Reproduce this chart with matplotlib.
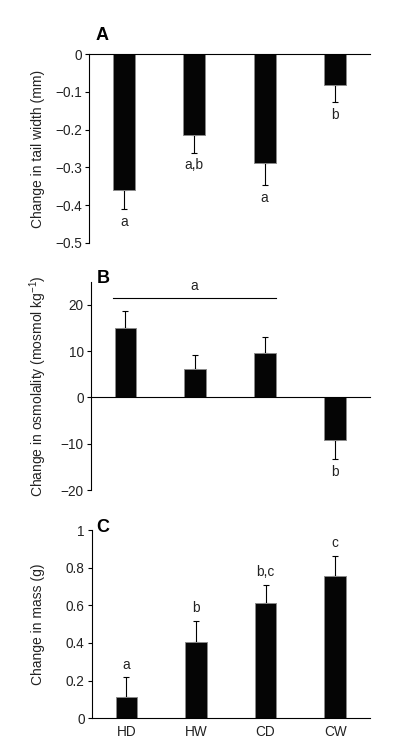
import numpy as np
import matplotlib
matplotlib.use('Agg')
import matplotlib.pyplot as plt

plt.rcParams['font.family'] = ['Liberation Sans', 'DejaVu Sans']

groups = ['HD', 'HW', 'CD', 'CW']

# panel A: change in tail width (mm)
width_mean = [-0.360, -0.215, -0.288, -0.081]
width_err = [0.051, 0.046, 0.059, 0.047]
width_letters = ['a', 'a,b', 'a', 'b']

# panel B: change in osmolality
osmo_mean = [15.0, 6.2, 9.7, -9.1]
osmo_err = [3.7, 2.9, 3.3, 4.3]
osmo_letters = ['', '', '', 'b']
osmo_bracket = (-0.18, 2.16, 21.5, 'a')   # x from, x to, y, letter

# panel C: change in mass (g)
mass_mean = [0.115, 0.404, 0.611, 0.754]
mass_err = [0.103, 0.114, 0.099, 0.110]
mass_letters = ['a', 'b', 'b,c', 'c']

W, H = 399, 746
fig = plt.figure(figsize=(W / 100, H / 100), dpi=100)

def axes_px(left, top, right, bottom):
    return fig.add_axes([left / W, 1 - bottom / H, (right - left) / W, (bottom - top) / H])

axA = axes_px(89, 54, 370, 243)
axB = axes_px(90.5, 281.7, 370, 490)
axC = axes_px(91.5, 530, 370, 718.3)

x = np.arange(len(groups))
fs = 9.8

def draw(ax, mean, err, letters, ylim, yticks, ticklabels, ylabel, panel, panel_xy):
    mean = np.array(mean)
    err = np.array(err)
    ax.bar(x, mean, width=0.31, color='#050505', edgecolor='#8a8a8a', linewidth=0.7, zorder=2)
    lo = np.where(mean < 0, err, 0)
    hi = np.where(mean >= 0, err, 0)
    ax.errorbar(x, mean, yerr=[lo, hi], fmt='none', ecolor='black', elinewidth=0.8,
                capsize=2.2, capthick=0.8, zorder=1)
    for xi, m, e, lab in zip(x, mean, err, letters):
        if not lab:
            continue
        if m < 0:
            ax.annotate(lab, (xi, m - e), xytext=(0, -12), textcoords='offset points',
                        ha='center', va='baseline', fontsize=fs, color='#222222')
        else:
            ax.annotate(lab, (xi, m + e), xytext=(0, 6), textcoords='offset points',
                        ha='center', va='baseline', fontsize=fs, color='#222222')
    ax.set_xlim(-0.5, 3.5)
    ax.set_ylim(*ylim)
    ax.set_yticks(yticks)
    ax.set_yticklabels(ticklabels)
    for s in ['top', 'right']:
        ax.spines[s].set_visible(False)
    ax.spines['bottom'].set_position(('data', 0))
    ax.spines['left'].set_linewidth(0.8)
    ax.spines['bottom'].set_linewidth(0.8)
    ax.tick_params(axis='y', direction='out', length=3, width=0.8, labelsize=fs, pad=2,
                   labelcolor='#222222')
    ax.tick_params(axis='x', length=0)
    pos = ax.get_position()
    fig.text(38 / W, (pos.y0 + pos.y1) / 2, ylabel, rotation=90, ha='center', va='center',
             fontsize=10, color='#222222')
    fig.text(panel_xy[0] / W, 1 - panel_xy[1] / H, panel, fontsize=13, fontweight='bold',
             ha='left', va='baseline')

draw(axA, width_mean, width_err, width_letters, (-0.5, 0), np.arange(0, -0.51, -0.1),
     ['0', '\u22120.1', '\u22120.2', '\u22120.3', '\u22120.4', '\u22120.5'],
     'Change in tail width (mm)', 'A', (95.5, 40))
axA.set_xticks([])

draw(axB, osmo_mean, osmo_err, osmo_letters, (-20, 25), [-20, -10, 0, 10, 20],
     ['\u221220', '\u221210', '0', '10', '20'],
     r'Change in osmolality (mosmol kg$^{\mathregular{-1}}$)', 'B', (96.5, 283))
axB.set_xticks([])
bx0, bx1, by, blab = osmo_bracket
axB.plot([bx0, bx1], [by, by], color='black', linewidth=0.8)
axB.annotate(blab, ((bx0 + bx1) / 2, by), xytext=(0, 6), textcoords='offset points',
             ha='center', va='baseline', fontsize=fs, color='#222222')

draw(axC, mass_mean, mass_err, mass_letters, (0, 1), [0, 0.2, 0.4, 0.6, 0.8, 1.0],
     ['0', '0.2', '0.4', '0.6', '0.8', '1'], 'Change in mass (g)', 'C', (96, 532))
axC.set_xticks(x)
axC.set_xticklabels(groups, fontsize=fs, color='#222222')
axC.tick_params(axis='x', pad=5)

fig.savefig('out.png', dpi=100)
